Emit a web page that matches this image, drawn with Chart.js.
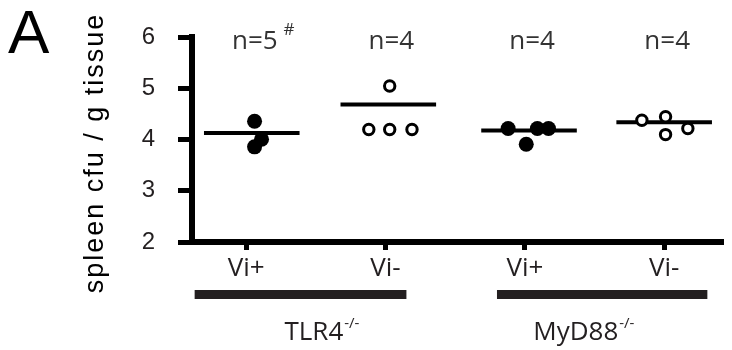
<!DOCTYPE html>
<html>
<head>
<meta charset="utf-8">
<script src="https://cdn.jsdelivr.net/npm/chart.js@4.4.0/dist/chart.umd.min.js"></script>
<style>
  html, body { margin: 0; padding: 0; background: #fff; }
  #wrap { width: 732px; height: 350px; position: relative; }
</style>
</head>
<body>
<div id="wrap"><canvas id="chart"></canvas></div>
<script>
// categories along x (positions 1..4)
const categories = ['Vi+', 'Vi-', 'Vi+', 'Vi-'];
const yTicks = [2, 3, 4, 5, 6];
const nLabels = ['n=5', 'n=4', 'n=4', 'n=4'];
const nMarks = ['#', '', '', ''];
const groupNames = ['TLR4', 'MyD88'];
const groupSup = '-/-';
const groupSpans = [[0.63, 2.15], [2.8, 4.31]];
const groupLabelX = [1.54, 3.42];

// x = category position + jitter, y = spleen cfu (log)
const tlr4ViPos = [{ x: 1.06, y: 4.36 }, { x: 1.11, y: 4.01 }, { x: 1.06, y: 3.86 }];
const tlr4ViNeg = [{ x: 2.03, y: 5.05 }, { x: 1.88, y: 4.2 }, { x: 2.03, y: 4.2 }, { x: 2.19, y: 4.2 }];
const myd88ViPos = [{ x: 2.88, y: 4.22 }, { x: 3.01, y: 3.91 }, { x: 3.09, y: 4.22 }, { x: 3.17, y: 4.22 }];
const myd88ViNeg = [{ x: 3.84, y: 4.38 }, { x: 4.01, y: 4.45 }, { x: 4.01, y: 4.10 }, { x: 4.17, y: 4.22 }];
const means = [4.13, 4.69, 4.18, 4.34];
const meanX = [1.04, 2.02, 3.03, 4.0];
const meanHalf = 0.343;

const ink = '#231f20';

function filled(data) {
  return { type: 'scatter', data, pointRadius: 7.5, pointBackgroundColor: '#000', pointBorderColor: '#000', pointBorderWidth: 0 };
}
function hollow(data) {
  return { type: 'scatter', data, pointRadius: 5.2, pointBackgroundColor: '#fff', pointBorderColor: '#000', pointBorderWidth: 3 };
}

const meanLines = means.map((m, i) => ({
  type: 'line',
  data: [{ x: meanX[i] - meanHalf, y: m }, { x: meanX[i] + meanHalf, y: m }],
  borderColor: '#000',
  borderWidth: 4,
  pointRadius: 0,
  fill: false
}));

const decor = {
  id: 'decor',
  afterDraw(chart) {
    const ctx = chart.ctx;
    const xs = chart.scales.x;
    ctx.save();

    // panel letter
    ctx.fillStyle = '#000';
    ctx.font = '62px "Liberation Sans"';
    ctx.textAlign = 'left';
    ctx.textBaseline = 'alphabetic';
    ctx.fillText('A', 8, 53);

    // y axis title
    ctx.save();
    ctx.translate(96, 153);
    ctx.rotate(-Math.PI / 2);
    ctx.font = '27px "Liberation Sans"';
    ctx.letterSpacing = '2px';
    ctx.textAlign = 'center';
    ctx.textBaseline = 'middle';
    ctx.fillText('spleen cfu / g tissue', 0, 0);
    ctx.restore();

    // n labels
    ctx.fillStyle = '#333';
    ctx.font = '26px "Open Sans"';
    ctx.textAlign = 'center';
    ctx.textBaseline = 'middle';
    nLabels.forEach((t, i) => {
      const px = xs.getPixelForValue(meanX[i]) + 3;
      ctx.fillText(t, px, 42);
      if (nMarks[i]) {
        const w = ctx.measureText(t).width;
        ctx.save();
        ctx.font = '17px "Open Sans"';
        ctx.textAlign = 'left';
        ctx.fillText(nMarks[i], px + w / 2 + 6, 30);
        ctx.restore();
      }
    });

    // group bars
    ctx.strokeStyle = ink;
    ctx.lineWidth = 9;
    groupSpans.forEach(([a, b]) => {
      ctx.beginPath();
      ctx.moveTo(xs.getPixelForValue(a), 294.5);
      ctx.lineTo(xs.getPixelForValue(b), 294.5);
      ctx.stroke();
    });

    // group labels with superscript
    ctx.fillStyle = ink;
    groupNames.forEach((g, i) => {
      ctx.font = '26px "Open Sans"';
      const w1 = ctx.measureText(g).width;
      ctx.font = '15px "Open Sans"';
      const w2 = ctx.measureText(groupSup).width;
      const cx = xs.getPixelForValue(groupLabelX[i]);
      const left = cx - (w1 + w2) / 2;
      ctx.textAlign = 'left';
      ctx.textBaseline = 'alphabetic';
      ctx.font = '26px "Open Sans"';
      ctx.fillText(g, left, 340);
      ctx.font = '15px "Open Sans"';
      ctx.fillText(groupSup, left + w1 + 1, 328);
    });

    ctx.restore();
  }
};

new Chart(document.getElementById('chart'), {
  data: {
    datasets: [
      filled(tlr4ViPos),
      hollow(tlr4ViNeg),
      filled(myd88ViPos),
      hollow(myd88ViNeg),
      ...meanLines
    ]
  },
  options: {
    responsive: true,
    maintainAspectRatio: false,
    animation: false,
    events: [],
    layout: { padding: { left: 0, right: 0, top: 35, bottom: 0 } },
    plugins: { legend: { display: false }, tooltip: { enabled: false } },
    scales: {
      x: {
        type: 'linear',
        min: 0.611,
        max: 4.428,
        afterBuildTicks: s => { s.ticks = [1, 2, 3, 4].map(v => ({ value: v })); },
        afterFit: s => { s.height = 108; },
        ticks: {
          callback: v => categories[v - 1],
          font: { family: '"Open Sans"', size: 26 },
          color: ink,
          padding: 3,
          maxRotation: 0,
          autoSkip: false
        },
        grid: { drawOnChartArea: false, drawTicks: true, tickLength: 8, tickWidth: 5, tickColor: '#000' },
        border: { display: true, width: 6, color: '#000' }
      },
      y: {
        type: 'linear',
        min: 2,
        max: 6,
        afterBuildTicks: s => { s.ticks = yTicks.map(v => ({ value: v })); },
        afterFit: s => { s.width = 192; },
        ticks: {
          font: { family: '"Liberation Sans"', size: 24 },
          color: ink,
          padding: 23
        },
        grid: { drawOnChartArea: false, drawTicks: true, tickLength: 14, tickWidth: 5, tickColor: '#000' },
        border: { display: true, width: 6, color: '#000' }
      }
    }
  },
  plugins: [decor]
});
</script>
</body>
</html>
